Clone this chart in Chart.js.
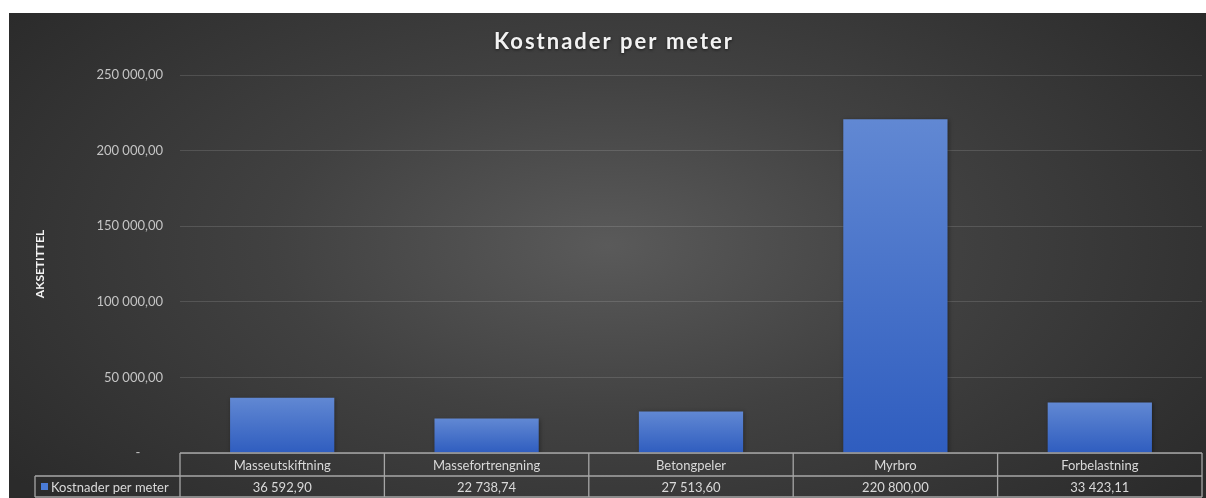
<!DOCTYPE html>
<html>
<head>
<meta charset="utf-8">
<script src="https://cdn.jsdelivr.net/npm/chart.js@4.4.1/dist/chart.umd.min.js"></script>
<style>
  html, body { margin: 0; padding: 0; background: #fff; }
  #panel {
    position: absolute; left: 9px; top: 13px; width: 1197px; height: 485px;
    background: radial-gradient(ellipse 62% 80% at 50% 48%, #5a5a5a 0%, #414141 45%, #2b2b2b 100%);
  }
  canvas { display: block; }
</style>
</head>
<body>
<div id="panel"><canvas id="costChart" width="1197" height="485"></canvas></div>
<script>
// chart data
const chartTitle = "Kostnader per meter";
const seriesName = "Kostnader per meter";
const categories = ["Masseutskiftning", "Massefortrengning", "Betongpeler", "Myrbro", "Forbelastning"];
const costs = [36592.90, 22738.74, 27513.60, 220800.00, 33423.11];
const yTicks = [0, 50000, 100000, 150000, 200000, 250000];

const FONT = "Lato";
const TEXT = "#d9d9d9";

// 36592.9 -> "36 592,90"
function fmt(v) {
  const parts = v.toFixed(2).split(".");
  const intPart = parts[0].replace(/\B(?=(\d{3})+(?!\d))/g, " ");
  return intPart + "," + parts[1];
}

function barFill(context) {
  const chart = context.chart;
  const area = chart.chartArea;
  if (!area) return "#4472c4";
  const y = chart.scales.y;
  const top = y.getPixelForValue(costs[context.dataIndex]);
  const base = y.getPixelForValue(0);
  const g = chart.ctx.createLinearGradient(0, top, 0, base);
  g.addColorStop(0, "#6188d3");
  g.addColorStop(1, "#2f5dbf");
  return g;
}

// title with letter spacing
const titlePlugin = {
  id: "titleText",
  afterDraw(chart) {
    const ctx = chart.ctx;
    ctx.save();
    ctx.font = "bold 22px " + FONT;
    ctx.letterSpacing = "2px";
    ctx.fillStyle = "#f2f2f2";
    ctx.textAlign = "center";
    ctx.textBaseline = "middle";
    ctx.shadowColor = "rgba(0,0,0,0.6)";
    ctx.shadowBlur = 3;
    ctx.shadowOffsetY = 1;
    ctx.fillText(chartTitle, 605, 29);
    ctx.restore();
  }
};

// data table under the plot
const tablePlugin = {
  id: "dataTable",
  afterDraw(chart) {
    const ctx = chart.ctx;
    const area = chart.chartArea;
    const x = chart.scales.x;
    const top = area.bottom, mid = top + 23, bot = mid + 21;
    const legendLeft = 26;
    const half = (x.getPixelForValue(1) - x.getPixelForValue(0)) / 2;

    ctx.save();
    ctx.strokeStyle = "#a6a6a6";
    ctx.lineWidth = 1.3;
    ctx.beginPath();
    ctx.moveTo(area.left, top); ctx.lineTo(area.right, top);
    ctx.moveTo(legendLeft, mid); ctx.lineTo(area.right, mid);
    ctx.moveTo(legendLeft, bot); ctx.lineTo(area.right, bot);
    ctx.moveTo(legendLeft, mid); ctx.lineTo(legendLeft, bot);
    for (let i = 0; i < categories.length; i++) {
      const l = x.getPixelForValue(i) - half;
      ctx.moveTo(l, top); ctx.lineTo(l, bot);
    }
    ctx.moveTo(area.right, top); ctx.lineTo(area.right, bot);
    ctx.stroke();

    ctx.font = "13px " + FONT;
    ctx.fillStyle = TEXT;
    ctx.textAlign = "center";
    ctx.textBaseline = "middle";
    categories.forEach((c, i) => {
      const cx = x.getPixelForValue(i);
      ctx.fillText(c, cx, (top + mid) / 2 + 1);
      ctx.fillText(fmt(costs[i]), cx, (mid + bot) / 2 + 1);
    });

    // legend key
    ctx.fillStyle = "#4a7bd6";
    ctx.fillRect(legendLeft + 6, mid + 7, 7, 7);
    ctx.fillStyle = TEXT;
    ctx.textAlign = "left";
    ctx.fillText(seriesName, legendLeft + 16, (mid + bot) / 2 + 1);
    ctx.restore();
  }
};

const barShadow = {
  id: "barShadow",
  beforeDatasetsDraw(chart) {
    chart.ctx.save();
    chart.ctx.shadowColor = "rgba(0,0,0,0.35)";
    chart.ctx.shadowBlur = 4;
    chart.ctx.shadowOffsetX = 1;
    chart.ctx.shadowOffsetY = 1;
  },
  afterDatasetsDraw(chart) {
    chart.ctx.restore();
  }
};

const ctx = document.getElementById("costChart").getContext("2d");
new Chart(ctx, {
  type: "bar",
  data: {
    labels: categories,
    datasets: [
      {
        label: seriesName,
        data: costs,
        backgroundColor: barFill,
        borderWidth: 0,
        categoryPercentage: 1,
        barPercentage: 0.51,
      },
    ],
  },
  options: {
    responsive: false,
    animation: false,
    layout: { padding: { top: 62, right: 4, bottom: 45, left: 0 } },
    plugins: {
      legend: { display: false },
      title: { display: false },
      tooltip: { enabled: false },
    },
    scales: {
      x: { display: false },
      y: {
        min: 0,
        max: 250000,
        afterFit(scale) { scale.width = 171; },
        afterBuildTicks(scale) { scale.ticks = yTicks.map(v => ({ value: v })); },
        border: { display: false },
        grid: { color: "rgba(255,255,255,0.13)", lineWidth: 1, drawTicks: false },
        ticks: {
          color: "#c4c4c4",
          font: { family: FONT, size: 13 },
          padding: 17,
          callback: (v) => (v === 0 ? "-\u2007\u2007\u2007" : fmt(v)),
        },
        title: {
          display: true,
          text: "AKSETITTEL",
          color: "#f2f2f2",
          font: { family: FONT, size: 12, weight: "bold" },
          padding: { top: 24, bottom: 0 },
        },
      },
    },
  },
  plugins: [barShadow, titlePlugin, tablePlugin],
});
</script>
</body>
</html>
